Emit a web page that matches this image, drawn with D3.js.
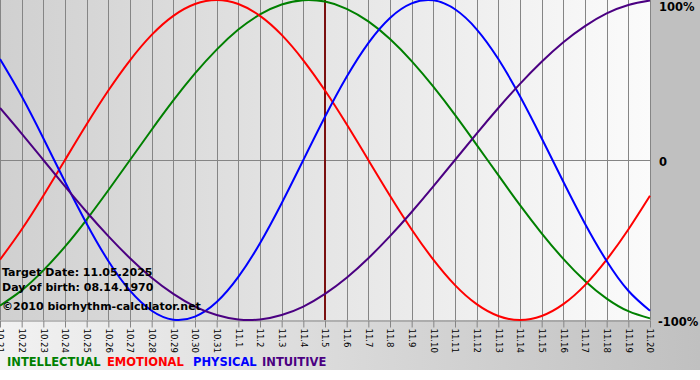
<!DOCTYPE html>
<html>
<head>
<meta charset="utf-8">
<script src="https://cdn.jsdelivr.net/npm/d3@7"></script>
<style>
  html, body { margin: 0; padding: 0; background: #ffffff; }
  svg { display: block; }
</style>
</head>
<body>
<div id="chart"></div>
<script>
// ---- data ----
const dates = ["10.21","10.22","10.23","10.24","10.25","10.26","10.27","10.28","10.29","10.30","10.31",
  "11.1","11.2","11.3","11.4","11.5","11.6","11.7","11.8","11.9","11.10",
  "11.11","11.12","11.13","11.14","11.15","11.16","11.17","11.18","11.19","11.20"];
const intellectual = [-0.910,-0.815,-0.690,-0.541,-0.372,-0.189,0,0.189,0.372,0.541,0.690,0.815,0.910,0.972,0.999,0.990,
  0.945,0.866,0.756,0.618,0.458,0.282,0.095,-0.095,-0.282,-0.458,-0.618,-0.756,-0.866,-0.945,-0.990];
const emotional = [-0.623,-0.434,-0.223,0,0.223,0.434,0.623,0.782,0.901,0.975,1,0.975,0.901,0.782,0.623,0.434,
  0.223,0,-0.223,-0.434,-0.623,-0.782,-0.901,-0.975,-1,-0.975,-0.901,-0.782,-0.623,-0.434,-0.223];
const physical = [0.631,0.398,0.136,-0.136,-0.398,-0.631,-0.817,-0.942,-0.998,-0.979,-0.888,-0.731,-0.520,-0.270,0,0.270,
  0.520,0.731,0.888,0.979,0.998,0.942,0.817,0.631,0.398,0.136,-0.136,-0.398,-0.631,-0.817,-0.942];
const intuitive = [0.325,0.165,0,-0.165,-0.325,-0.476,-0.614,-0.736,-0.837,-0.916,-0.969,-0.997,-0.997,-0.969,-0.916,-0.837,
  -0.736,-0.614,-0.476,-0.325,-0.165,0,0.165,0.325,0.476,0.614,0.736,0.837,0.916,0.969,0.997];
const yTicks = [1, 0, -1];
const yTickLabels = ["100%", "0", "-100%"];
const targetDate = "11.5";
const infoLines = ["Target Date: 11.05.2025", "Day of birth: 08.14.1970", "\u00A92010 biorhythm-calculator.net"];
const legendNames = ["INTELLECTUAL", "EMOTIONAL", "PHYSICAL", "INTUITIVE"];

// ---- layout ----
const W = 700, H = 380;
const plotL = 0, plotR = 650, plotT = 0, plotB = 320;

const svg = d3.select("#chart").append("svg").attr("width", W).attr("height", H);
const defs = svg.append("defs");

const gPlot = defs.append("linearGradient").attr("id", "gPlot").attr("x1", "0").attr("x2", "1").attr("y1", "0").attr("y2", "0");
gPlot.append("stop").attr("offset", "0").attr("stop-color", "#d0d0d0");
gPlot.append("stop").attr("offset", "1").attr("stop-color", "#fbfbfb");
const gBottom = defs.append("linearGradient").attr("id", "gBottom").attr("x1", "0").attr("x2", "1").attr("y1", "0").attr("y2", "0");
gBottom.append("stop").attr("offset", "0").attr("stop-color", "#f2f2f2");
gBottom.append("stop").attr("offset", "1").attr("stop-color", "#c0c0c0");

// backgrounds
svg.append("rect").attr("x", 0).attr("y", 0).attr("width", W).attr("height", H).attr("fill", "#ffffff");
svg.append("rect").attr("x", 0).attr("y", plotB).attr("width", W).attr("height", 50).attr("fill", "url(#gBottom)");
svg.append("rect").attr("x", plotR).attr("y", 0).attr("width", W - plotR).attr("height", plotB).attr("fill", "#c0c0c0");
svg.append("rect").attr("x", plotL).attr("y", plotT).attr("width", plotR - plotL).attr("height", plotB - plotT).attr("fill", "url(#gPlot)");

const x = d3.scaleLinear().domain([0, dates.length - 1]).range([plotL, plotR]);
const y = d3.scaleLinear().domain([-1, 1]).range([plotB, plotT]);

// vertical grid
svg.append("g").selectAll("line").data(dates).join("line")
  .attr("x1", (d, i) => Math.round(x(i)) + 0.5).attr("x2", (d, i) => Math.round(x(i)) + 0.5)
  .attr("y1", plotT).attr("y2", plotB)
  .attr("stroke", "#858585").attr("stroke-width", 1);
// zero line
svg.append("line").attr("x1", plotL).attr("x2", plotR + 1).attr("y1", Math.round(y(0)) + 0.5).attr("y2", Math.round(y(0)) + 0.5)
  .attr("stroke", "#858585");

// x axis
const xAxis = d3.axisBottom(x).tickValues(d3.range(dates.length)).tickFormat(i => dates[i]).tickSize(7).tickSizeOuter(0);
const ax = svg.append("g").attr("transform", `translate(0,${plotB + 0.5})`).call(xAxis);
ax.select(".domain").attr("stroke", "#858585");
ax.selectAll(".tick line").attr("stroke", "#858585");
ax.selectAll(".tick text")
  .attr("transform", "rotate(90)")
  .attr("x", 8).attr("y", 0).attr("dy", "0.35em")
  .attr("text-anchor", "start")
  .attr("font-family", "'DejaVu Sans'").attr("font-stretch", "condensed").attr("font-size", "9.5px").attr("fill", "#000");

// target date line
const ti = dates.indexOf(targetDate);
svg.append("line").attr("x1", x(ti)).attr("x2", x(ti)).attr("y1", plotT).attr("y2", plotB)
  .attr("stroke", "#7a1010").attr("stroke-width", 2);

// curves
const series = [
  { name: legendNames[0], values: intellectual, color: "#008000" },
  { name: legendNames[1], values: emotional, color: "#ff0000" },
  { name: legendNames[2], values: physical, color: "#0000ff" },
  { name: legendNames[3], values: intuitive, color: "#4b0082" }
];
const line = d3.line().x((d, i) => x(i)).y(d => y(d)).curve(d3.curveNatural);
svg.append("g").selectAll("path").data(series).join("path")
  .attr("d", s => line(s.values)).attr("fill", "none")
  .attr("stroke", s => s.color).attr("stroke-width", 2);

// right labels
svg.append("g").selectAll("text").data(yTicks).join("text")
  .attr("x", (d, i) => i === 2 ? 658 : 659)
  .attr("y", d => y(d) + (d === 1 ? 11 : 6))
  .attr("font-family", "'DejaVu Sans'").attr("font-weight", "bold").attr("font-size", "11.5px").attr("fill", "#000")
  .text((d, i) => yTickLabels[i]);

// info text
svg.append("g").selectAll("text").data(infoLines).join("text")
  .attr("x", 2).attr("y", (d, i) => [276, 291, 310][i])
  .attr("font-family", "'DejaVu Sans'").attr("font-weight", "bold").attr("font-size", "11px").attr("fill", "#000")
  .text(d => d);

// legend
const legendX = [7, 107, 193, 262];
svg.append("g").selectAll("text").data(series).join("text")
  .attr("x", (d, i) => legendX[i]).attr("y", 366)
  .attr("font-family", "'DejaVu Sans'").attr("font-weight", "bold").attr("font-size", "11.5px")
  .attr("fill", s => s.color)
  .text(s => s.name);
</script>
</body>
</html>
